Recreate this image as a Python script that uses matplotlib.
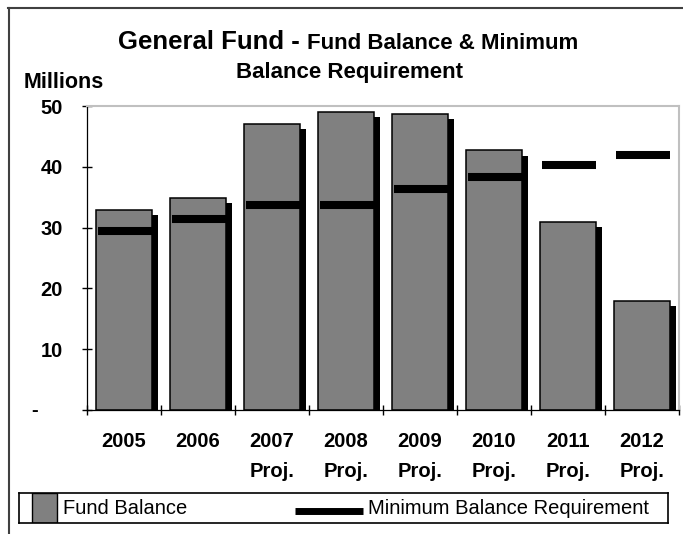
import matplotlib
matplotlib.use("Agg")
import matplotlib.pyplot as plt
import numpy as np
from matplotlib.lines import Line2D
from matplotlib.patches import Rectangle

plt.rcParams['font.family'] = ['Liberation Sans', 'DejaVu Sans']

# fund balance vs. minimum balance requirement, in millions
years = ['2005', '2006', '2007\nProj.', '2008\nProj.', '2009\nProj.',
         '2010\nProj.', '2011\nProj.', '2012\nProj.']
fund_balance = [32.9, 34.9, 47.1, 49.0, 48.7, 42.7, 30.9, 17.9]
min_balance = [29.4, 31.4, 33.7, 33.7, 36.4, 38.3, 40.3, 42.0]
yticks = [0, 10, 20, 30, 40, 50]
ylabels = ['', '10', '20', '30', '40', '50']

W, H = 683, 534

def fx(px):
    return px / W

def fy(py):
    return 1 - py / H

fig = plt.figure(figsize=(W / 100, H / 100), dpi=100)
fig.patch.set_facecolor('white')

ax = fig.add_axes([fx(87), fy(410), fx(592), 304 / H])
x = np.arange(len(years))
bw = 0.77

# drop shadow behind each bar
ax.bar(x + 0.075, fund_balance, width=bw, bottom=-0.85, color='black', zorder=1)
ax.bar(x, fund_balance, width=bw, color='#808080', edgecolor='black',
       linewidth=1.1, zorder=2)
ax.hlines(min_balance, x - 0.35, x + 0.38, colors='black', linewidth=5.8,
          capstyle='butt', zorder=3)

ax.set_xlim(-0.5, len(years) - 0.5)
ax.set_ylim(0, 50)

ax.set_yticks(yticks)
ax.set_yticklabels(ylabels, fontsize=14.5, fontweight='bold')
ax.tick_params(axis='y', direction='inout', length=7.2, width=1, pad=13.7)
ax.text((35 - 87) / 592, 0, '-', transform=ax.get_yaxis_transform(),
        ha='center', va='center', fontsize=14.5, fontweight='bold')

ax.set_xticks(np.arange(-0.5, len(years), 1))
ax.set_xticklabels([])
ax.set_xticks(x, minor=True)
ax.set_xticklabels(years, minor=True, fontsize=14.5, fontweight='bold',
                   linespacing=1.75)
ax.tick_params(axis='x', which='major', direction='inout', length=7.2, width=1)
ax.tick_params(axis='x', which='minor', length=0, pad=16)

for s in ['left', 'bottom']:
    ax.spines[s].set_color('black')
    ax.spines[s].set_linewidth(0.9)
for s in ['top', 'right']:
    ax.spines[s].set_color('#c0c0c0')
    ax.spines[s].set_linewidth(1.5)

# titles
fig.text(fx(117.6), fy(49), 'General Fund -', fontsize=18.5, fontweight='bold',
         va='baseline', ha='left')
fig.text(fx(307), fy(49), 'Fund Balance & Minimum', fontsize=16, fontweight='bold',
         va='baseline', ha='left')
fig.text(fx(350), fy(78), 'Balance Requirement', fontsize=16, fontweight='bold',
         va='baseline', ha='center')
fig.text(fx(24), fy(88), 'Millions', fontsize=15.5, fontweight='bold',
         va='baseline', ha='left')

# legend box
lax = fig.add_axes([fx(19), fy(523), fx(649), 30 / H])
lax.set_xlim(0, 649)
lax.set_ylim(0, 30)
lax.set_xticks([])
lax.set_yticks([])
for s in lax.spines.values():
    s.set_color('black')
    s.set_linewidth(1.2)
lax.add_patch(Rectangle((13, 0), 25, 30, facecolor='#808080', edgecolor='black',
                        linewidth=1))
lax.text(44, 14.5, 'Fund Balance', fontsize=14.5, va='center', ha='left')
lax.plot([276, 344], [12.5, 12.5], color='black', linewidth=5, solid_capstyle='butt')
lax.text(349, 14.5, 'Minimum Balance Requirement', fontsize=14.5, va='center',
         ha='left')

# outer frame (top and left edges)
fig.add_artist(Line2D([fx(8), 1], [fy(7.5), fy(7.5)], color='#404040',
                      linewidth=1.5, transform=fig.transFigure))
fig.add_artist(Line2D([fx(8.5), fx(8.5)], [fy(7.5), 0], color='#404040',
                      linewidth=1.5, transform=fig.transFigure))

fig.savefig('out.png', dpi=100)
